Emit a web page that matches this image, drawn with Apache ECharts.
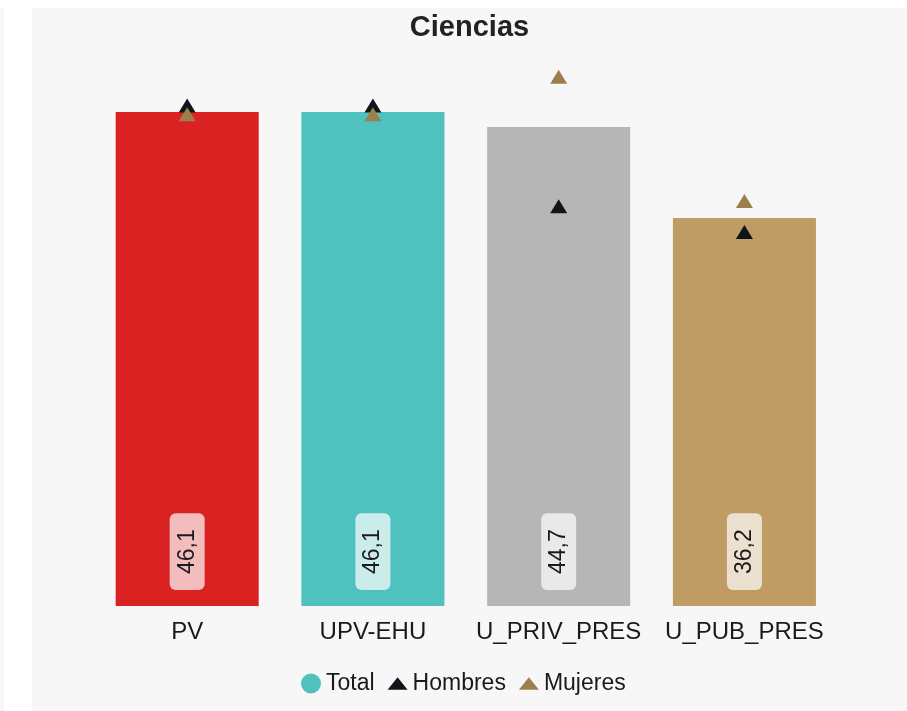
<!DOCTYPE html>
<html>
<head>
<meta charset="utf-8">
<script src="https://cdn.jsdelivr.net/npm/echarts@6/dist/echarts.min.js"></script>
<style>
html,body{margin:0;padding:0;background:#ffffff;width:907px;height:711px;overflow:hidden;}
#strip{position:absolute;left:0;top:8px;width:4px;height:703px;background:#f7f7f7;}
#chart{position:absolute;left:32px;top:8px;width:875px;height:703px;background:#f7f7f7;}
</style>
</head>
<body>
<div id="strip"></div>
<div id="chart"></div>
<script>
const titleText = 'Ciencias';
const categories = ['PV', 'UPV-EHU', 'U_PRIV_PRES', 'U_PUB_PRES'];
const totalValues = [46.1, 46.1, 44.7, 36.2];
const hombresValues = [46.7, 46.7, 37.3, 34.9];
const mujeresValues = [45.9, 45.9, 49.4, 37.8];
const barColors = ['#da2222', '#4fc1bf', '#b6b6b6', '#be9c64'];
const seriesNames = ['Total', 'Hombres', 'Mujeres'];

const FONT = '"Liberation Sans", Arial, sans-serif';
const chart = echarts.init(document.getElementById('chart'), null, {renderer: 'canvas'});

chart.setOption({
  backgroundColor: '#f7f7f7',
  animation: false,
  title: {
    text: titleText,
    left: 'center',
    top: 0,
    padding: [5, 9, 5, 5],
    textStyle: {fontFamily: FONT, fontSize: 29, fontWeight: 'bold', color: '#222222'}
  },
  legend: {
    left: 264,
    top: 659,
    itemGap: 13,
    itemWidth: 20,
    itemHeight: 20,
    textStyle: {fontFamily: FONT, fontSize: 23, color: '#1a1a1a'},
    data: [
      {name: seriesNames[0], icon: 'circle', itemStyle: {color: '#4fc1bf', opacity: 1}},
      {name: seriesNames[1], icon: 'path://M0,12L9.5,0L19,12Z', itemStyle: {color: '#11141a', opacity: 1}},
      {name: seriesNames[2], icon: 'path://M0,12L9.5,0L19,12Z', itemStyle: {color: '#9c7f4b', opacity: 1}}
    ]
  },
  grid: {left: 62.3, right: 69.7, top: 62.2, bottom: 105},
  xAxis: {
    type: 'category',
    data: categories,
    axisLine: {show: false},
    axisTick: {show: false},
    axisLabel: {interval: 0, hideOverlap: false, fontFamily: FONT, fontSize: 24, color: '#1a1a1a', margin: 14}
  },
  yAxis: {
    type: 'value',
    min: 0,
    max: 50,
    show: false,
    splitLine: {show: false}
  },
  series: [
    {
      name: seriesNames[0],
      type: 'bar',
      barWidth: '77%',
      itemStyle: {color: '#4fc1bf'},
      data: totalValues.map((v, i) => ({value: v, itemStyle: {color: barColors[i]}})),
      label: {
        show: true,
        position: 'insideBottom',
        rotate: 90,
        align: 'left',
        verticalAlign: 'middle',
        distance: 16,
        fontFamily: FONT,
        fontSize: 23,
        color: '#1a1a1a',
        backgroundColor: 'rgba(255,255,255,0.7)',
        borderRadius: 6,
        padding: [6, 16, 6, 16],
        formatter: p => String(p.value).replace('.', ',')
      },
      z: 1
    },
    {
      name: seriesNames[1],
      type: 'scatter',
      symbol: 'triangle',
      symbolSize: [17, 14],
      itemStyle: {color: '#11141a', opacity: 1},
      data: hombresValues,
      z: 3
    },
    {
      name: seriesNames[2],
      type: 'scatter',
      symbol: 'triangle',
      symbolSize: [17, 14],
      itemStyle: {color: '#9c7f4b', opacity: 1},
      data: mujeresValues,
      z: 4
    }
  ]
});
</script>
</body>
</html>
